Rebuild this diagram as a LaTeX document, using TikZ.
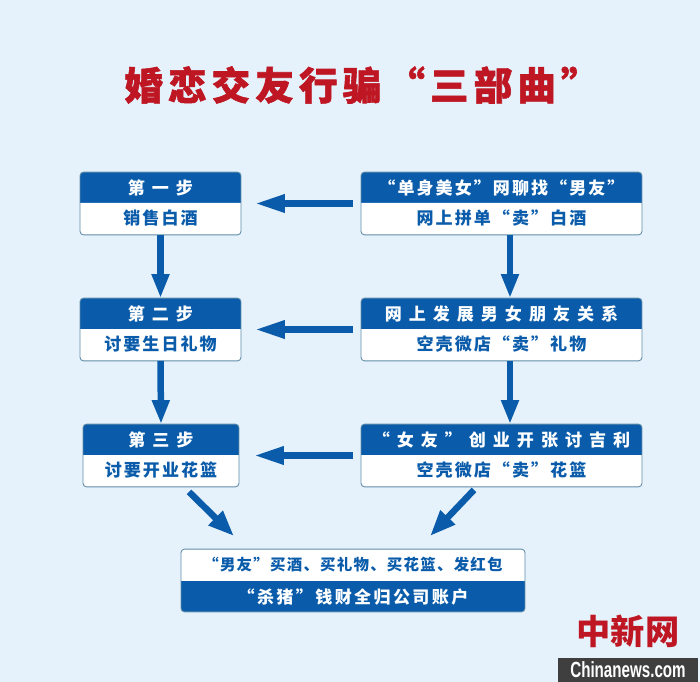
\documentclass[tikz,border=0pt]{standalone}
\usepackage{fontspec}
\usepackage{xcolor}
\usetikzlibrary{arrows.meta,shapes.multipart}

\newfontfamily\cjkfont{Noto Sans CJK SC}
\newfontfamily\markfont[FakeStretch=0.69]{Liberation Sans}

\definecolor{pagebg}{HTML}{E6F2FB}
\definecolor{stepblue}{HTML}{0A5CAB}
\definecolor{stepedge}{HTML}{5F8CA8}
\definecolor{titlered}{HTML}{BE1622}
\definecolor{bandgrey}{HTML}{3F3F3F}

\newcommand{\headstrut}{\rule[-0.16cm]{0pt}{0.6cm}}
\newcommand{\bodystrut}{\rule[-0.2cm]{0pt}{0.62cm}}
\newcommand{\widetrack}{\addfontfeature{LetterSpace=41}}
\newcommand{\smalltrack}{\addfontfeature{LetterSpace=12}}

\tikzset{
  stepbox/.style={rectangle split, rectangle split parts=2, rectangle split draw splits=false,
    rectangle split part fill={stepblue,white}, draw=stepedge, line width=0.5pt, rounded corners=2pt,
    inner ysep=0pt, inner xsep=0pt, outer sep=0pt, text=white, font=\cjkfont\bfseries\fontsize{9.7}{11}\selectfont},
  endbox/.style={stepbox, rectangle split part fill={white,stepblue}, text=stepblue},
  flowarrow/.style={stepblue, line width=0.13cm},
  sidearrow/.style={flowarrow, shorten <=0.16cm, shorten >=0.3cm, -{Triangle[length=0.6cm,width=0.34cm]}},
  downarrow/.style={flowarrow, -{Triangle[length=0.48cm,width=0.33cm]}},
  slantarrow/.style={flowarrow, -{Triangle[length=0.52cm,width=0.38cm]}}
}

\begin{document}
\begin{tikzpicture}[x=0.02cm,y=-0.02cm]
  \useasboundingbox (0,0) rectangle (700,682);
  \fill[pagebg] (0,0) rectangle (700,682);

  % Title
  \node[text=titlered, font=\cjkfont\bfseries\fontsize{22}{24}\selectfont\addfontfeature{LetterSpace=13,FakeBold=1.5}] (title) at (362,85) {婚恋交友行骗“三部曲”};

  % Left column
  \node[stepbox, minimum width=3.22cm] (step1) at (160.5,203.5) {\headstrut{\widetrack 第一步}\nodepart{two}\bodystrut\textcolor{stepblue}{\smalltrack 销售白酒}};
  \node[stepbox, minimum width=3.22cm] (step2) at (160.5,329.5) {\headstrut{\widetrack 第二步}\nodepart{two}\bodystrut\textcolor{stepblue}{\smalltrack 讨要生日礼物}};
  \node[stepbox, minimum width=3.12cm] (step3) at (161,455.5) {\headstrut{\widetrack 第三步}\nodepart{two}\bodystrut\textcolor{stepblue}{\smalltrack 讨要开业花篮}};

  % Right column
  \node[stepbox, minimum width=5.62cm] (trick1) at (501.5,203.5) {\headstrut{\smalltrack “单身美女”网聊找“男友”}\nodepart{two}\bodystrut\textcolor{stepblue}{\smalltrack 网上拼单“卖”白酒}};
  \node[stepbox, minimum width=5.62cm] (trick2) at (501.5,329.5) {\headstrut{\widetrack 网上发展男女朋友关系}\nodepart{two}\bodystrut\textcolor{stepblue}{\smalltrack 空壳微店“卖”礼物}};
  \node[stepbox, minimum width=5.62cm] (trick3) at (501.5,455.5) {\headstrut{\widetrack “女友”创业开张讨吉利}\nodepart{two}\bodystrut\textcolor{stepblue}{\smalltrack 空壳微店“卖”花篮}};

  % Bottom box
  \node[endbox, minimum width=6.88cm] (result) at (353,580.5) {\bodystrut{\fontsize{8.8}{11}\selectfont\addfontfeature{LetterSpace=8} “男友”买酒、买礼物、买花篮、发红包}\nodepart{two}\headstrut\textcolor{white}{\addfontfeature{LetterSpace=14} “杀猪”钱财全归公司账户}};

  % Arrows
  \draw[downarrow] (step1.south) -- (step2.north);
  \draw[downarrow] (step2.south) -- (step3.north);
  \draw[downarrow] ([xshift=0.17cm]trick1.south) -- ([xshift=0.17cm]trick2.north);
  \draw[downarrow] ([xshift=0.17cm]trick2.south) -- ([xshift=0.17cm]trick3.north);
  \draw[sidearrow, shorten >=0.28cm] (trick1.west) -- (step1.east);
  \draw[sidearrow, shorten >=0.28cm] (trick2.west) -- (step2.east);
  \draw[sidearrow] (trick3.west) -- (step3.east);
  \draw[slantarrow] ([xshift=0.56cm,yshift=-0.1cm]step3.south) -- ([xshift=-2.38cm,yshift=0.26cm]result.north);
  \draw[slantarrow] ([xshift=-0.55cm,yshift=-0.06cm]trick3.south) -- ([xshift=1.54cm,yshift=0.26cm]result.north);

  % Watermark
  \node[text=titlered, font=\cjkfont\bfseries\fontsize{19.5}{22}\selectfont] (logo) at (628,631) {中新网};
  \node[fill=bandgrey, text=white, minimum width=2.82cm, minimum height=0.48cm, inner sep=0pt, font=\markfont\bfseries\fontsize{12.5}{14}\selectfont] (band) at (628,670) {Chinanews.com};
\end{tikzpicture}
\end{document}
